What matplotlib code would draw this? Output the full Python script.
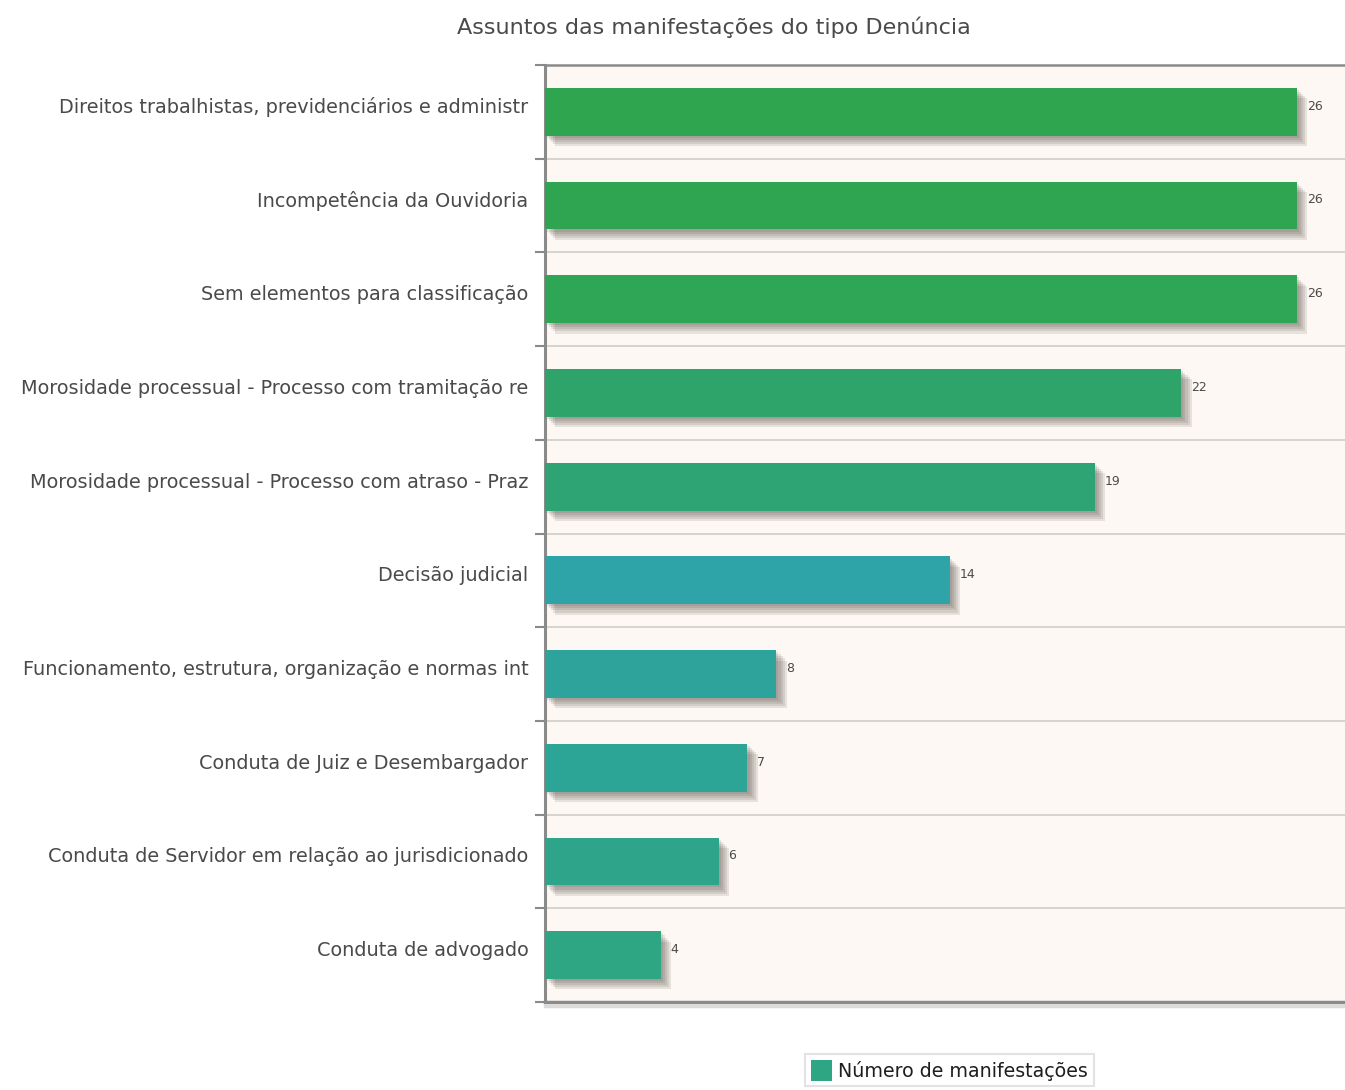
import matplotlib
matplotlib.use("Agg")
import matplotlib.pyplot as plt
import matplotlib.patheffects as pe
from matplotlib.patches import Patch

categorias = [
    "Direitos trabalhistas, previdenciários e administr",
    "Incompetência da Ouvidoria",
    "Sem elementos para classificação",
    "Morosidade processual - Processo com tramitação re",
    "Morosidade processual - Processo com atraso - Praz",
    "Decisão judicial",
    "Funcionamento, estrutura, organização e normas int",
    "Conduta de Juiz e Desembargador",
    "Conduta de Servidor em relação ao jurisdicionado",
    "Conduta de advogado",
]
valores = [26, 26, 26, 22, 19, 14, 8, 7, 6, 4]
cores = ["#2fa54f", "#2fa552", "#2fa556", "#2ea46a", "#2ea475",
         "#2ea3a8", "#2ea39c", "#2da596", "#2ea58a", "#2ea583"]

texto = "#4a4a4a"
plt.rcParams["font.family"] = ["DejaVu Sans"]

fig = plt.figure(figsize=(13.45, 10.9), dpi=100)
ax = fig.add_axes([0.4052, 0.0807, 0.5948, 0.8597])
ax.set_facecolor("#fdf8f3")

n = len(categorias)
y = list(range(n))

# sombra difusa: várias camadas deslocadas
sombra = [pe.SimplePatchShadow(offset=(d, -d), shadow_rgbFace="#4a4038", alpha=0.12)
          for d in (1.5, 3, 4.5, 6, 7.5)]
barras = ax.barh(y, valores, height=0.51, color=cores, zorder=3)
for b in barras:
    b.set_path_effects(sombra + [pe.Normal()])

for yi, v in zip(y, valores):
    ax.annotate(str(v), (v, yi), xytext=(7, 4), textcoords="offset points",
                va="center", ha="left", fontsize=9, color=texto, zorder=4)

ax.set_xlim(0, 27.66)
ax.set_ylim(n - 0.5, -0.5)
ax.set_xticks([])

ax.set_yticks([i - 0.5 for i in range(n + 1)], minor=False)
ax.set_yticklabels([])
# rótulos um pouco acima do centro das barras
ax.set_yticks([i - 0.07 for i in y], minor=True)
ax.set_yticklabels(categorias, minor=True, fontsize=13.9, color=texto)
ax.tick_params(axis="y", which="major", length=7, width=1.5, color="#8a8a8a")
ax.tick_params(axis="y", which="minor", length=0, pad=12)
ax.grid(axis="y", which="major", color="#d0ccc8", linewidth=1.2, zorder=1)

for lado in ("left", "bottom", "top"):
    ax.spines[lado].set_color("#8a8a8a")
ax.spines["left"].set_linewidth(2.2)
ax.spines["bottom"].set_linewidth(2.5)
ax.spines["top"].set_linewidth(1.8)
ax.spines["right"].set_visible(False)
ax.spines["bottom"].set_path_effects(
    [pe.SimpleLineShadow(offset=(0, -3), shadow_color="#9a9a9a", alpha=0.35), pe.Normal()])

fig.text(0.531, 0.975, "Assuntos das manifestações do tipo Denúncia",
         ha="center", va="center", fontsize=16, color=texto)

leg = fig.legend(handles=[Patch(facecolor="#2ea583", label="Número de manifestações")],
                 loc="center", bbox_to_anchor=(0.706, 0.018), fontsize=13.7,
                 frameon=True, fancybox=False, handlelength=1.1, handleheight=1.3,
                 handletextpad=0.35, borderpad=0.3)
leg.get_frame().set_edgecolor("#dcdcdc")
leg.get_frame().set_linewidth(1.5)
for t in leg.get_texts():
    t.set_color("#1e1e1e")

fig.savefig("out.png", dpi=100, facecolor="white")
